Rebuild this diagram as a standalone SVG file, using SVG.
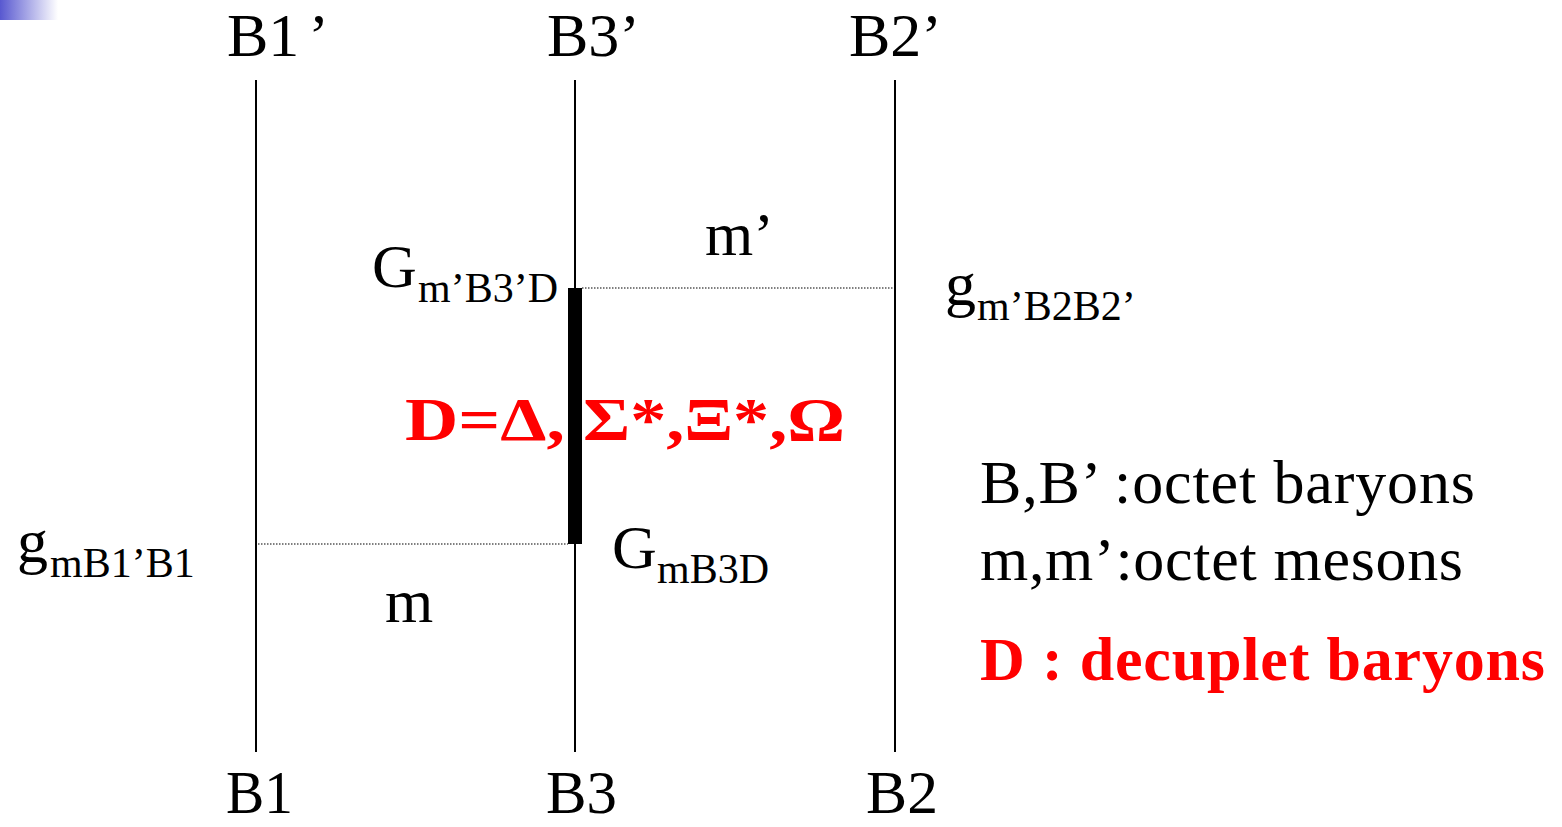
<svg xmlns="http://www.w3.org/2000/svg" width="1562" height="827" viewBox="0 0 1562 827">
<defs>
<linearGradient id="corner" x1="0" y1="0" x2="1" y2="0">
<stop offset="0" stop-color="#5858d0"/>
<stop offset="1" stop-color="#ffffff"/>
</linearGradient>
</defs>
<style>
.t{font-family:"Liberation Serif","Times New Roman",serif;fill:#000}
.big{font-size:62px}
.sub{font-size:42px}
.red{font-family:"Liberation Serif","Times New Roman",serif;fill:#ff0000;font-weight:bold;font-size:62px}
.line{stroke:#000;stroke-width:2;fill:none}
.dot{stroke:#000;stroke-width:1.2;stroke-dasharray:1.5 1.5;fill:none}
</style>
<rect width="1562" height="827" fill="#fff"/>
<rect x="0" y="0" width="58" height="20" fill="url(#corner)"/>
<g id="connectors">
<line class="line" x1="256" y1="80" x2="256" y2="752"/>
<line class="line" x1="575" y1="80" x2="575" y2="752"/>
<line class="line" x1="895" y1="80" x2="895" y2="752"/>
<line class="dot" x1="582" y1="288" x2="893" y2="288"/>
<line class="dot" x1="258" y1="544" x2="568" y2="544"/>
</g>
<g id="labels-top">
<text class="t big" x="227" y="56">B1<tspan dx="9">’</tspan></text>
<text class="t big" x="547" y="56">B3’</text>
<text class="t big" x="849" y="56">B2’</text>
</g>
<g id="labels-bottom">
<text class="t big" x="226" y="813" textLength="67" lengthAdjust="spacingAndGlyphs">B1</text>
<text class="t big" x="546" y="813" textLength="71" lengthAdjust="spacingAndGlyphs">B3</text>
<text class="t big" x="866" y="813" textLength="72" lengthAdjust="spacingAndGlyphs">B2</text>
</g>
<g id="mesons">
<text class="t big" x="705" y="255">m’</text>
<text class="t big" x="385" y="622">m</text>
</g>
<g id="couplings">
<text class="t" x="372" y="287"><tspan class="big">G</tspan><tspan class="sub" x="418" dy="15">m’B3’D</tspan></text>
<text class="t" x="945" y="305"><tspan class="big">g</tspan><tspan class="sub" x="977" dy="15">m’B2B2’</tspan></text>
<text class="t" x="17" y="562"><tspan class="big">g</tspan><tspan class="sub" x="50" dy="15">mB1’B1</tspan></text>
<text class="t" x="612" y="568"><tspan class="big">G</tspan><tspan class="sub" x="657" dy="15">mB3D</tspan></text>
</g>
<g id="decuplet">
<text class="red" x="405" y="440" textLength="160" lengthAdjust="spacingAndGlyphs">D=Δ,</text>
<text class="red" x="583" y="440" textLength="262" lengthAdjust="spacingAndGlyphs">Σ*,Ξ*,Ω</text>
</g>
<g id="vertex">
<rect x="568" y="288" width="14" height="256" fill="#000"/>
</g>
<g id="legend">
<text class="t big" x="980" y="503" textLength="495" lengthAdjust="spacing">B,B’ :octet baryons</text>
<text class="t big" x="980" y="580" textLength="483" lengthAdjust="spacing">m,m’:octet mesons</text>
<text class="red" x="980" y="680" textLength="565" lengthAdjust="spacing">D : decuplet baryons</text>
</g>
</svg>
